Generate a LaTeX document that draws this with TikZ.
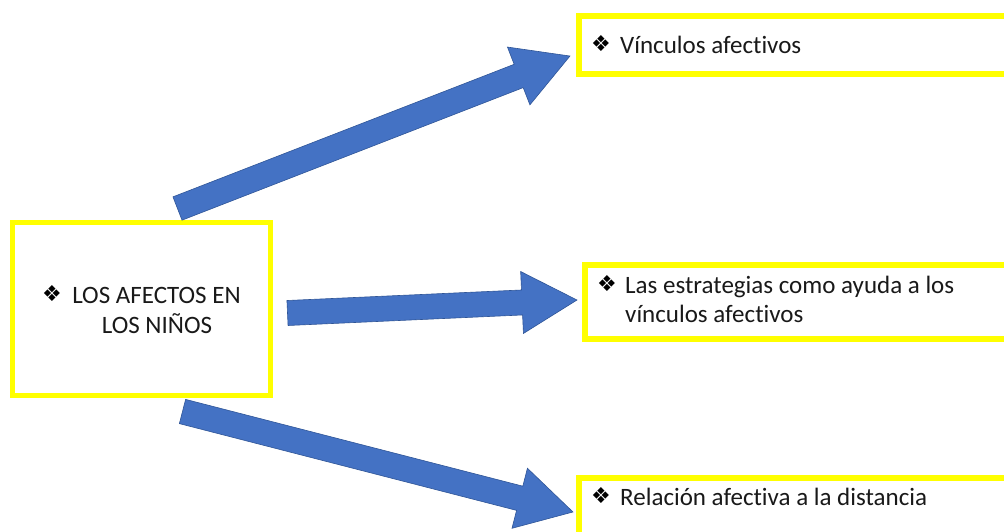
\documentclass[tikz,border=0pt]{standalone}
\usepackage{fontspec}
\setmainfont{Carlito}[Ligatures=NoCommon]
\newfontfamily\symfont{DejaVu Sans}
\usetikzlibrary{calc}
\definecolor{ayellow}{HTML}{FFFF00}
\definecolor{ablue}{HTML}{4472C4}
\definecolor{ablueline}{HTML}{2F5597}
\tikzset{
  ybox/.style={draw=ayellow, fill=white, rectangle, inner sep=0pt},
  barrow/.style={fill=ablue, draw=ablueline, line width=0.6pt, line join=miter},
  txt/.style={inner sep=0pt, font=\fontsize{25}{30}\selectfont, text=black!90},
  bul/.style={inner sep=0pt, font=\symfont\fontsize{22}{26}\selectfont, text=black},
}
\def\bw{12.5}\def\bh{55}\def\bH{31}
\newcommand\blockarrow[2]{%
  \path let \p1=($(#2)-(#1)$) in \pgfextra{%
    \pgfmathsetmacro\baang{atan2(\y1,\x1)}%
    \pgfmathsetmacro\balen{veclen(\x1,\y1)}%
    \xdef\baang{\baang}\xdef\balen{\balen}};
  \draw[barrow, shift={(#1)}, rotate=\baang]
    (0,-\bw) -- ({\balen-\bh},-\bw) -- ({\balen-\bh},-\bH) -- (\balen,0)
    -- ({\balen-\bh},\bH) -- ({\balen-\bh},\bw) -- (0,\bw) -- cycle;
}
\begin{document}
\begin{tikzpicture}[x=1pt,y=-1pt]
\useasboundingbox (0,0) rectangle (1004,531);
\clip (0,0) rectangle (1004,531);
\fill[white] (0,0) rectangle (1004,531);

% boxes
\node[ybox, line width=5pt, minimum width=258pt, minimum height=173pt] (main) at (141.5,309) {};
\node[ybox, line width=6pt, minimum width=436pt, minimum height=58pt] (b1) at (797,45) {};
\node[ybox, line width=6pt, minimum width=430pt, minimum height=74pt] (b2) at (800,302) {};
\node[ybox, line width=6pt, minimum width=436pt, minimum height=67pt] (b3) at (797,511.5) {};

% texts
\node[bul, anchor=base west] (m0) at (42,301) {❖};
\node[txt, anchor=base] (m1) at (156.5,303) {LOS AFECTOS EN};
\node[txt, anchor=base] (m2) at (157,333) {LOS NIÑOS};

\node[bul, anchor=base west] (t0) at (591,51) {❖};
\node[txt, anchor=base west] (t1) at (620,53) {Vínculos afectivos};

\node[bul, anchor=base west] (s0) at (597,291) {❖};
\node[txt, anchor=base west] (s1) at (625,293) {Las estrategias como ayuda a los};
\node[txt, anchor=base west] (s2) at (625,322) {vínculos afectivos};

\node[bul, anchor=base west] (r0) at (591,503) {❖};
\node[txt, anchor=base west] (r1) at (620,505) {Relación afectiva a la distancia};

% arrows
\coordinate (a1s) at (177.5,208.5);
\coordinate (a1e) at (570,56);
\coordinate (a2s) at (287.5,313);
\coordinate (a2e) at (577,300);
\coordinate (a3s) at (182.5,411.5);
\coordinate (a3e) at (573,512);
\blockarrow{a1s}{a1e}
\blockarrow{a2s}{a2e}
\blockarrow{a3s}{a3e}
\end{tikzpicture}
\end{document}
